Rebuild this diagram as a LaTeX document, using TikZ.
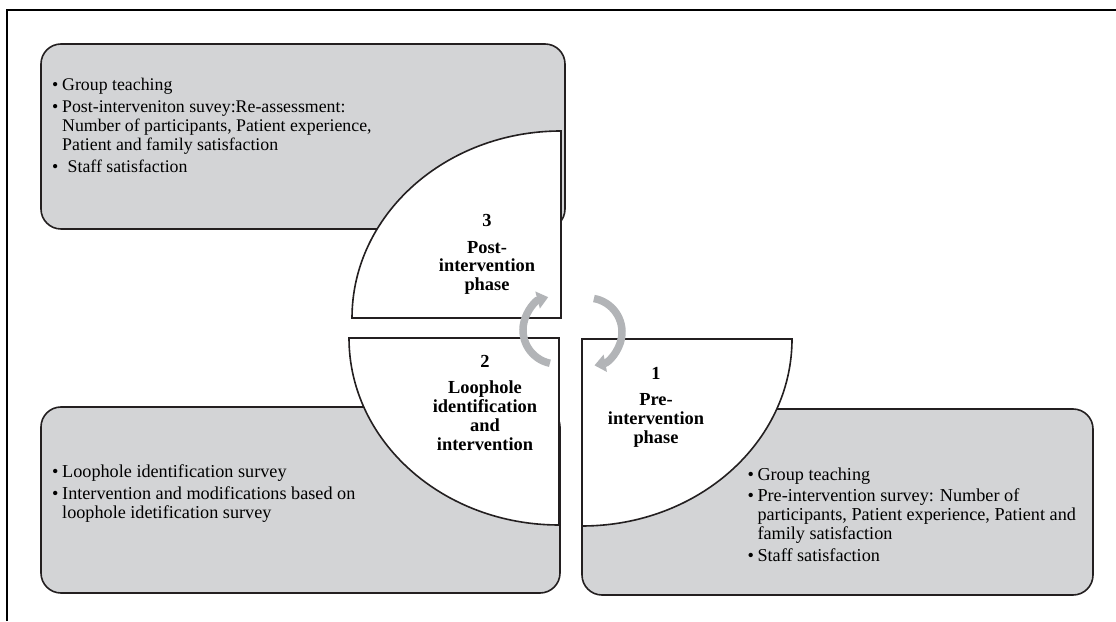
\documentclass[tikz,border=0pt]{standalone}
\usepackage{fontspec}
\setmainfont{Liberation Serif}
\usetikzlibrary{arrows.meta}
\definecolor{boxgray}{HTML}{D3D4D6}
\definecolor{edge}{HTML}{231F20}
\definecolor{arrowgray}{HTML}{B2B4B7}
\newcommand{\bul}{\makebox[10pt][l]{\textbullet}}
\newcommand{\itemblock}[1]{\vtop{\hsize=420pt\parindent=0pt\parskip=0pt
  \lineskiplimit=-100pt\lineskip=0pt\baselineskip=19pt #1\par}}
\newcommand{\bitem}[1]{\hangindent=10pt\hangafter=1\noindent\bul#1\par}
\newcommand{\gap}[1]{\vskip#1}
\tikzset{
  infobox/.style={fill=boxgray,draw=edge,line width=1.6pt,rounded corners=20pt},
  quarter/.style={fill=white,draw=edge,line width=1.6pt},
  cyc/.style={draw=arrowgray,line width=7.5pt,-{Triangle[width=17pt,length=11pt]}},
  bodytext/.style={inner sep=0pt,anchor=base west,font=\fontsize{#1}{19}\selectfont},
  bodytext/.default=18,
  phasetext/.style={inner sep=0pt,anchor=base,font=\fontsize{18.4}{18.8}\selectfont\bfseries},
  frameline/.style={draw=black,line width=1.1pt},
}
\begin{document}
\begin{tikzpicture}[x=1pt,y=1pt]
\useasboundingbox (0,0) rectangle (1116,621);
% frame
\draw[frameline] (7,0) -- (7,611) -- (1116,611);
% grey boxes
\draw[infobox] (41,392) rectangle (565,577);
\draw[infobox] (41,28) rectangle (560,214);
\draw[infobox] (582,26) rectangle (1093,212);
% quarter shapes
\draw[quarter] (561,303) -- (352,303) arc[start angle=180,end angle=90,x radius=209pt,y radius=187pt] -- cycle;
\draw[quarter] (559,283) -- (349,283) arc[start angle=180,end angle=270,x radius=210pt,y radius=187pt] -- cycle;
\draw[quarter] (582,282) -- (792,282) arc[start angle=0,end angle=-90,x radius=210pt,y radius=187pt] -- cycle;
% cycle arrows
\coordinate (lc) at (557,291);
\coordinate (rc) at (588,289);
\draw[cyc] ([shift={(258:34pt)}]lc) arc[start angle=258,end angle=105,radius=34pt];
\draw[cyc] ([shift={(80:34pt)}]rc) arc[start angle=80,end angle=-79,radius=34pt];
% phase labels
\node[phasetext] (p3) at (487,394.3) {\begin{tabular}[t]{@{}c@{}}3\\[7.7pt] Post-\\ intervention\\ phase\end{tabular}};
\node[phasetext] (p2) at (485,253.7) {\begin{tabular}[t]{@{}c@{}}2\\[7.7pt] Loophole\\ identification\\ and\\ intervention\end{tabular}};
\node[phasetext] (p1) at (656,241.7) {\begin{tabular}[t]{@{}c@{}}1\\[7.7pt] Pre-\\ intervention\\ phase\end{tabular}};
% body texts
\node[bodytext=17.8] (t3) at (52,530.3) {\itemblock{%
\bitem{Group teaching}\gap{3.3pt}
\bitem{Post-interveniton suvey:Re-assessment:\\ Number of participants, Patient experience,\\ Patient and family satisfaction}\gap{3pt}
\bitem{\hspace{5.5pt}Staff satisfaction}}};
\node[bodytext=18.2] (t2) at (52,143) {\itemblock{%
\bitem{Loophole identification survey}\gap{3pt}
\bitem{Intervention and modifications based on\\ loophole idetification survey}}};
\node[bodytext=18.2] (t1) at (747.3,140.3) {\itemblock{%
\bitem{Group teaching}\gap{2pt}
\bitem{Pre-intervention survey: Number of\\ participants, Patient experience, Patient and\\ family satisfaction}\gap{3pt}
\bitem{Staff satisfaction}}};
\end{tikzpicture}
\end{document}
